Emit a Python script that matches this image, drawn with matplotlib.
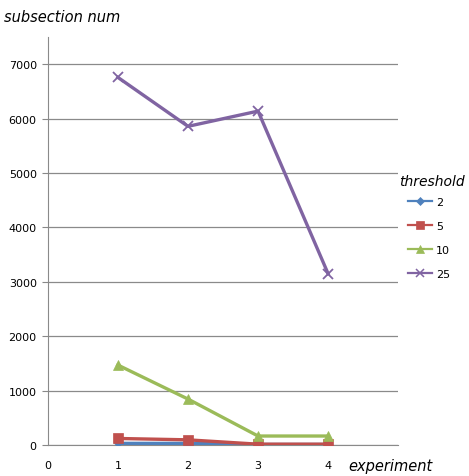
import matplotlib
matplotlib.use("Agg")
import matplotlib.pyplot as plt
from matplotlib.lines import Line2D

experiments = [1, 2, 3, 4]
thresholds = ["2", "5", "10", "25"]
series_2 = [30, 30, 10, 10]
series_5 = [120, 95, 15, 15]
series_10 = [1470, 845, 165, 165]
series_25 = [6760, 5860, 6140, 3150]
yticks = [0, 1000, 2000, 3000, 4000, 5000, 6000, 7000]
xticks = [0, 1, 2, 3, 4]

colors = ["#4F81BD", "#C0504D", "#9BBB59", "#8064A2"]
markers = ["D", "s", "^", "x"]
msizes = [4, 6.5, 6.5, 7]

fig = plt.figure(figsize=(4.69, 4.77), dpi=100)
ax = fig.add_axes([0.102, 0.065, 0.747, 0.855])

for vals, c, m, ms in zip([series_2, series_5, series_10, series_25], colors, markers, msizes):
    ax.plot(experiments, vals, color=c, lw=2.4, marker=m, markersize=ms,
            markeredgewidth=1.3 if m == "x" else 0.5, markeredgecolor=c,
            markerfacecolor=c, zorder=3)

ax.set_xlim(0, 5)
ax.set_ylim(0, 7500)
ax.set_yticks(yticks)
ax.set_yticklabels([str(v) for v in yticks], fontsize=8)
ax.set_xticks(xticks)
ax.set_xticklabels([str(v) for v in xticks], fontsize=8)
ax.tick_params(axis="x", length=0, pad=11)
ax.tick_params(axis="y", length=4, width=0.8, color="#888888", pad=4)

ax.grid(axis="y", color="#8a8a8a", lw=0.9)
ax.set_axisbelow(True)
for side in ["top", "right"]:
    ax.spines[side].set_visible(False)
ax.spines["left"].set_color("#8a8a8a")
ax.spines["bottom"].set_color("#8a8a8a")

fig.text(0.008, 0.963, "subsection num", fontsize=10.5, style="italic", ha="left", va="center")
fig.text(0.742, 0.022, "experiment", fontsize=10.5, style="italic", ha="left", va="center")

handles = [Line2D([], [], color=c, lw=1.6, marker=m, markersize=ms * 0.9,
                  markeredgecolor=c, markerfacecolor=c,
                  markeredgewidth=1.1 if m == "x" else 0.5)
           for c, m, ms in zip(colors, markers, msizes)]
fig.text(0.851, 0.618, "threshold", fontsize=10, style="italic", ha="left", va="center")
leg = fig.legend(handles, thresholds, loc="upper left", bbox_to_anchor=(0.87, 0.585),
                 frameon=False, fontsize=8, handlelength=2.2, handletextpad=0.3,
                 labelspacing=1.25, borderaxespad=0, borderpad=0)

fig.savefig("out.png", dpi=100)
